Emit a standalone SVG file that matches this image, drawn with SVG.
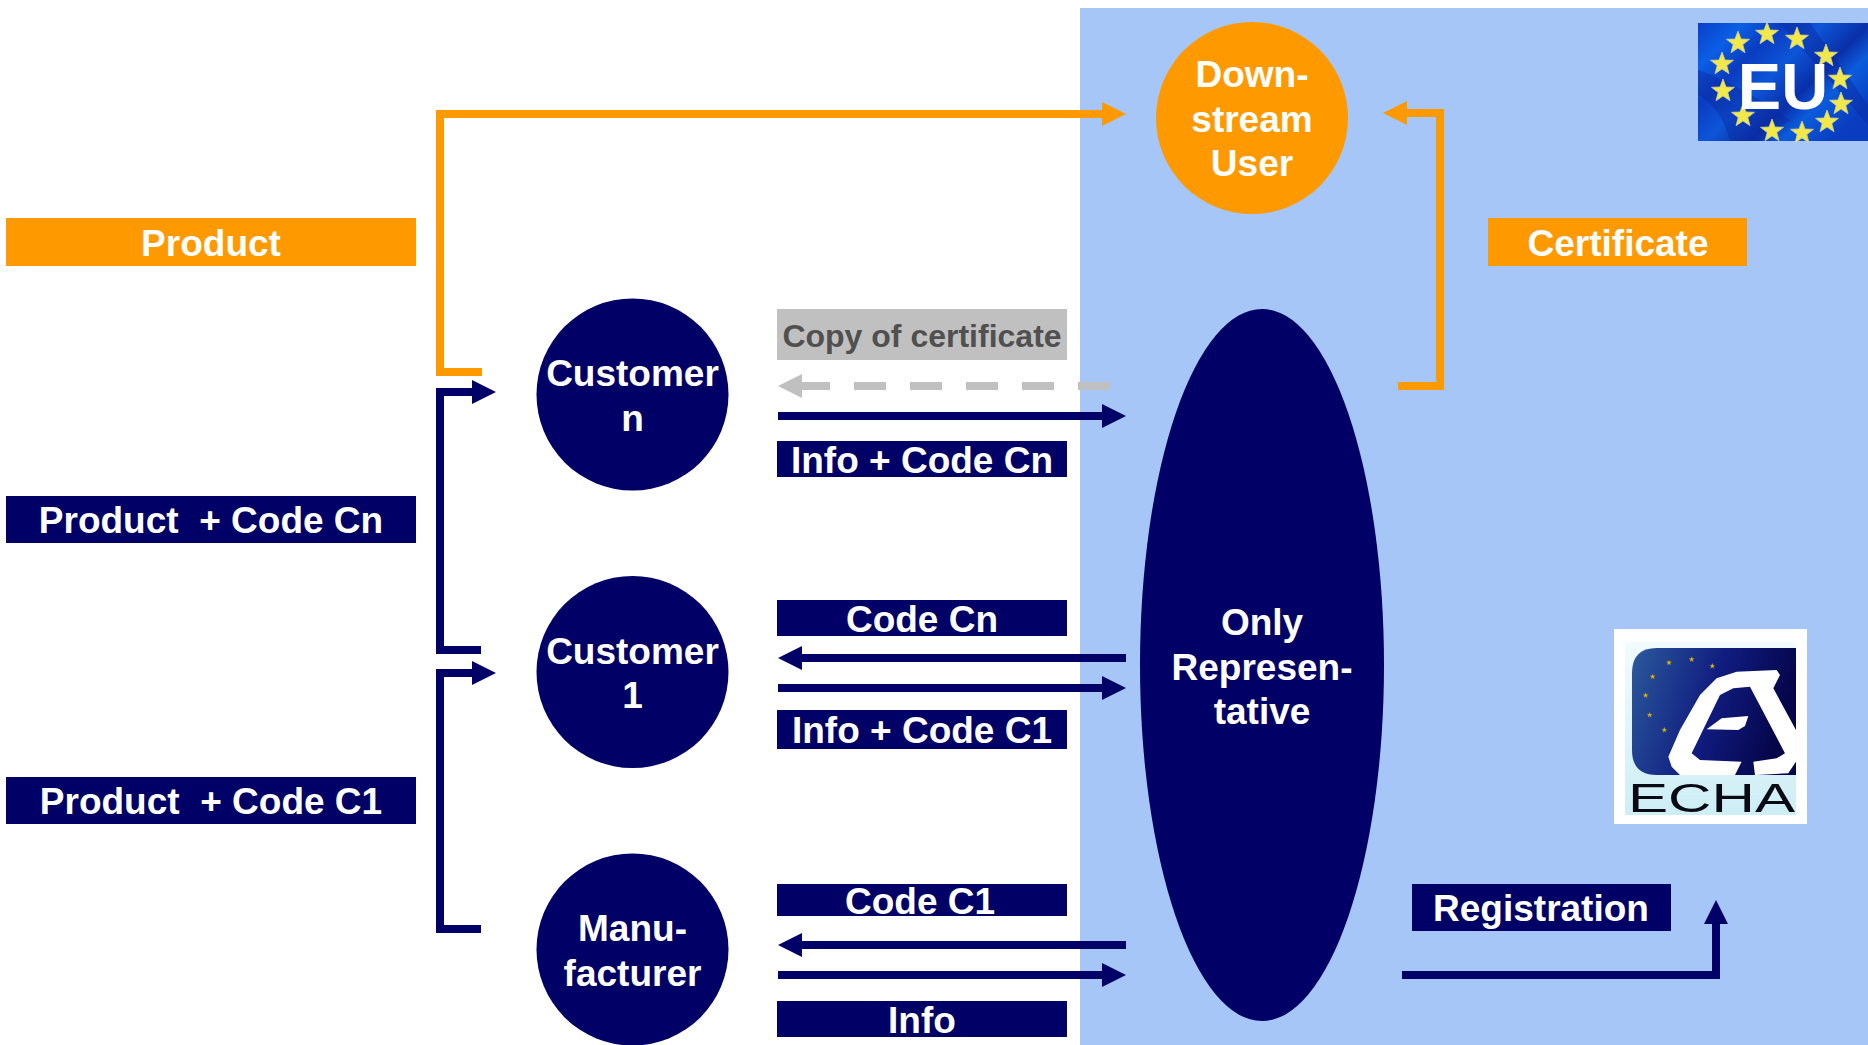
<svg xmlns="http://www.w3.org/2000/svg" width="1868" height="1045" viewBox="0 0 1868 1045">
<style>
text{font-family:"Liberation Sans",Arial,sans-serif;font-weight:700;font-size:37px;fill:#fff;text-anchor:middle;white-space:pre}
.navy{fill:#000066}.orange{fill:#ff9900}
.ln{fill:none;stroke-width:8;stroke-linejoin:miter}
.n{stroke:#000066}.o{stroke:#ff9900}.g{stroke:#c0c0c0;stroke-dasharray:32 24}
</style>
<defs>
<marker id="an" markerUnits="userSpaceOnUse" markerWidth="24" markerHeight="24" refX="0" refY="12" orient="auto"><path d="M0 0L24 12L0 24Z" fill="#000066"/></marker>
<marker id="ao" markerUnits="userSpaceOnUse" markerWidth="24" markerHeight="24" refX="0" refY="12" orient="auto"><path d="M0 0L24 12L0 24Z" fill="#ff9900"/></marker>
<linearGradient id="flag" x1="0" y1="0" x2="1" y2="0.7">
<stop offset="0" stop-color="#0a3fc8"/><stop offset=".18" stop-color="#0b5fe6"/><stop offset=".33" stop-color="#0a3cc0"/><stop offset=".5" stop-color="#0d55d8"/><stop offset=".68" stop-color="#0a2fa8"/><stop offset=".8" stop-color="#0a5cdc"/><stop offset="1" stop-color="#0a3cc0"/>
</linearGradient>
<linearGradient id="logo" x1="0" y1="0" x2="1" y2="0.25">
<stop offset="0" stop-color="#2b5a9c"/><stop offset=".55" stop-color="#101c80"/><stop offset="1" stop-color="#05054a"/>
</linearGradient>
<linearGradient id="pale" x1="0" y1="0" x2="0" y2="1"><stop offset="0" stop-color="#f2fbfd"/><stop offset="1" stop-color="#cdeef5"/></linearGradient>
<polygon id="fs" points="0,-12 3,-4 11.5,-3.7 4.8,1.5 7,9.7 0,5 -7,9.7 -4.8,1.5 -11.5,-3.7 -3,-4" fill="#f3e84a" stroke="#c9cf9a" stroke-width=".8"/>
<polygon id="ls" points="0,-8 2,-2.5 8,-2.5 3.2,1 5,7 0,3.4 -5,7 -3.2,1 -8,-2.5 -2,-2.5" fill="#f0c000" stroke="#8a7a40" stroke-width="1"/>
</defs>

<rect id="eu-zone" x="1080" y="8" width="788" height="1037" fill="#a6c6f7"/>

<g id="connectors">
<path class="ln o" d="M482 372H440V114H1102" marker-end="url(#ao)"/>
<path class="ln o" d="M1398 386H1440V113H1407" marker-end="url(#ao)"/>
<path class="ln n" d="M481 650H440V392H472" marker-end="url(#an)"/>
<path class="ln n" d="M481 929H440V673H472" marker-end="url(#an)"/>
<path class="ln g" d="M1110 386H802"/>
<path d="M802 374L778 386L802 398Z" fill="#c0c0c0"/>
<path class="ln n" d="M778 416H1102" marker-end="url(#an)"/>
<path class="ln n" d="M1126 658H802" marker-end="url(#an)"/>
<path class="ln n" d="M778 688H1102" marker-end="url(#an)"/>
<path class="ln n" d="M1126 945H802" marker-end="url(#an)"/>
<path class="ln n" d="M778 975H1102" marker-end="url(#an)"/>
<path class="ln n" d="M1402 975H1716V924" marker-end="url(#an)"/>
</g>

<g id="label-product"><rect class="orange" x="6" y="218" width="410" height="48"/><text x="211" y="256">Product</text></g>
<g id="label-product-cn"><rect class="navy" x="6" y="496" width="410" height="47"/><text x="211" y="533">Product  + Code Cn</text></g>
<g id="label-product-c1"><rect class="navy" x="6" y="777" width="410" height="47"/><text x="211" y="814">Product  + Code C1</text></g>
<g id="label-certificate"><rect class="orange" x="1488" y="218" width="259" height="48"/><text x="1618" y="256">Certificate</text></g>
<g id="label-registration"><rect class="navy" x="1412" y="884" width="259" height="47"/><text x="1541" y="921">Registration</text></g>
<g id="label-copy"><rect x="777" y="309" width="290" height="51" fill="#c0c0c0"/><text x="922" y="347" style="font-size:32px;fill:#505050">Copy of certificate</text></g>
<g id="label-info-cn"><rect class="navy" x="777" y="441" width="290" height="36"/><text x="922" y="473">Info + Code Cn</text></g>
<g id="label-code-cn"><rect class="navy" x="777" y="600" width="290" height="36"/><text x="922" y="632">Code Cn</text></g>
<g id="label-info-c1"><rect class="navy" x="777" y="710" width="290" height="39"/><text x="922" y="743">Info + Code C1</text></g>
<g id="label-code-c1"><rect class="navy" x="777" y="884" width="290" height="32"/><text x="920" y="914">Code C1</text></g>
<g id="label-info"><rect class="navy" x="777" y="1001" width="290" height="36"/><text x="922" y="1033">Info</text></g>

<g id="node-customer-n"><circle class="navy" cx="632.5" cy="394.5" r="96"/><text x="632.5" y="386">Customer</text><text x="632.5" y="431">n</text></g>
<g id="node-customer-1"><circle class="navy" cx="632.5" cy="672" r="96"/><text x="632.5" y="664">Customer</text><text x="632.5" y="708">1</text></g>
<g id="node-manufacturer"><circle class="navy" cx="632.5" cy="949.5" r="96"/><text x="632.5" y="941">Manu-</text><text x="632.5" y="986">facturer</text></g>
<g id="node-downstream"><circle class="orange" cx="1252" cy="118" r="96"/><text x="1252" y="87">Down-</text><text x="1252" y="132">stream</text><text x="1252" y="176">User</text></g>
<g id="node-only-rep"><ellipse class="navy" cx="1262" cy="665" rx="122" ry="356"/><text x="1262" y="635">Only</text><text x="1262" y="680">Represen-</text><text x="1262" y="724">tative</text></g>

<g id="eu-flag">
<rect x="1698" y="23" width="170" height="118" fill="url(#flag)"/>
<path d="M1780 23H1810L1868 105V125ZM1698 70Q1740 85 1790 120L1760 141H1730Q1720 105 1698 95Z" fill="#0a2aa0" opacity=".45"/>
<use href="#fs" x="1738" y="43"/><use href="#fs" x="1767" y="34"/><use href="#fs" x="1797" y="39"/><use href="#fs" x="1826" y="56"/><use href="#fs" x="1840" y="79"/><use href="#fs" x="1841" y="104"/><use href="#fs" x="1827" y="122"/><use href="#fs" x="1802" y="133"/><use href="#fs" x="1772" y="131"/><use href="#fs" x="1743" y="116"/><use href="#fs" x="1723" y="91"/><use href="#fs" x="1722" y="64"/>
<text x="1783" y="109" style="font-size:65px">EU</text>
</g>

<g id="echa-logo">
<rect x="1614" y="629" width="193" height="195" fill="#fff"/>
<rect x="1625" y="642" width="171" height="173" fill="url(#pale)"/>
<path d="M1657 648H1796V775H1657Q1632 775 1632 750V673Q1632 648 1657 648Z" fill="url(#logo)"/>
<g transform="translate(1600 620) scale(.3333)">
<path fill-rule="evenodd" fill="#fff" d="M205 410L240 330L300 225L350 175L410 155L530 150L540 165L520 205L588 330V425L565 460L470 465L240 465L215 440ZM275 400L360 225L400 205L450 200L555 400L530 415L460 425L465 465H405L425 425L300 420Z"/>
<path fill="#fff" d="M320 328L365 295L445 288L435 318L415 330Z"/>
<use href="#ls" x="207" y="128"/><use href="#ls" x="275" y="118"/><use href="#ls" x="337" y="138"/><use href="#ls" x="158" y="170"/><use href="#ls" x="137" y="226"/><use href="#ls" x="149" y="285"/><use href="#ls" x="193" y="330"/>
</g>
<text x="1628" y="812" textLength="167" lengthAdjust="spacingAndGlyphs" style="font-size:40px;fill:#0a0a14;text-anchor:start;font-weight:400">ECHA</text>
</g>
</svg>
